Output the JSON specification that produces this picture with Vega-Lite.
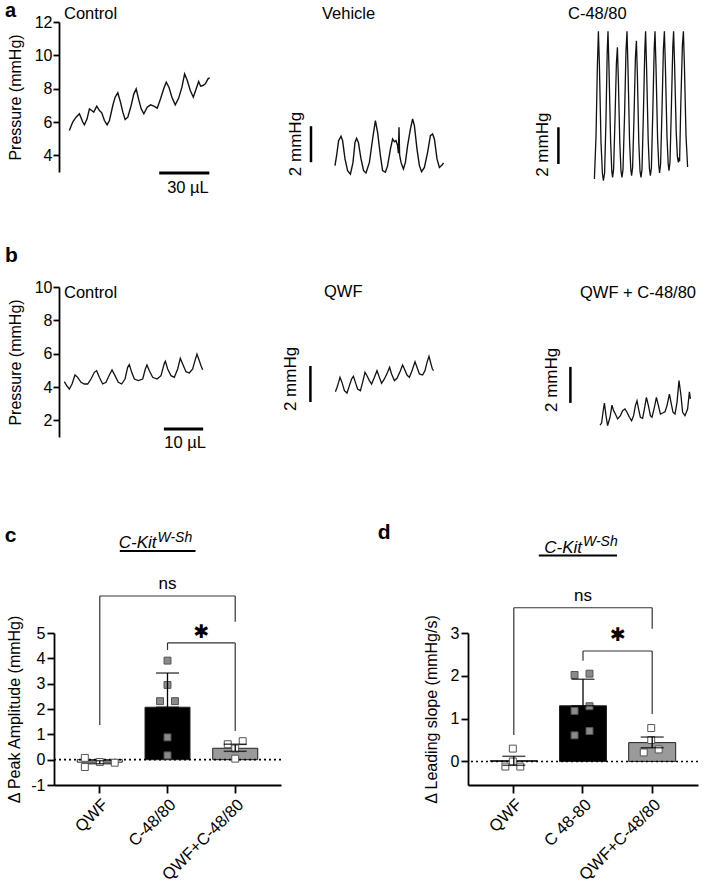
{
"$schema": "https://vega.github.io/schema/vega-lite/v6.json",
"padding": {"left": 4, "top": 0, "right": 2, "bottom": 2},
"background": "white",
"config": {
  "font": "Liberation Sans",
  "view": {"stroke": null},
  "axis": {"domainColor": "#000", "tickColor": "#000", "labelColor": "#000", "titleColor": "#000", "grid": false, "labelFont": "Liberation Sans", "titleFont": "Liberation Sans", "titleFontWeight": "normal", "domainWidth": 1.8, "tickWidth": 1.8, "labelFontSize": 16, "titleFontSize": 16, "labelOverlap": false, "labelFlush": false, "labelBound": false},
  "text": {"font": "Liberation Sans", "color": "#000"}
},
"datasets": {
  "aCtrl": [{"x":9.2,"y":5.49},{"x":11.2,"y":6.0},{"x":13.2,"y":6.29},{"x":15.2,"y":6.49},{"x":17.2,"y":6.0},{"x":18.2,"y":5.83},{"x":19.8,"y":6.19},{"x":21.2,"y":6.79},{"x":22.6,"y":6.69},{"x":23.8,"y":6.59},{"x":25.6,"y":6.95},{"x":27.2,"y":6.69},{"x":28.6,"y":6.55},{"x":30.2,"y":6.09},{"x":31.8,"y":5.83},{"x":33.2,"y":6.09},{"x":35.2,"y":6.99},{"x":36.6,"y":7.49},{"x":38.2,"y":7.75},{"x":39.8,"y":7.19},{"x":41.2,"y":6.59},{"x":42.6,"y":6.15},{"x":44.2,"y":6.29},{"x":46.2,"y":6.99},{"x":47.8,"y":7.69},{"x":49.2,"y":7.99},{"x":50.6,"y":7.39},{"x":52.2,"y":6.79},{"x":53.8,"y":6.49},{"x":55.8,"y":6.89},{"x":57.8,"y":7.03},{"x":59.8,"y":6.95},{"x":61.8,"y":6.83},{"x":63.8,"y":7.39},{"x":65.8,"y":8.03},{"x":67.2,"y":8.39},{"x":68.8,"y":8.09},{"x":70.6,"y":7.49},{"x":72.6,"y":7.03},{"x":74.6,"y":7.42},{"x":76.6,"y":8.09},{"x":78.2,"y":8.89},{"x":79.8,"y":8.49},{"x":81.6,"y":7.89},{"x":83.4,"y":7.49},{"x":85.0,"y":7.95},{"x":86.6,"y":8.43},{"x":87.8,"y":8.15},{"x":89.2,"y":8.19},{"x":90.6,"y":8.29},{"x":92.2,"y":8.59},{"x":93.2,"y":8.65}],
  "aVeh": [{"x":17,"y":0.91},{"x":17.8,"y":1.46},{"x":18.8,"y":2.3},{"x":20,"y":2.54},{"x":20.8,"y":2.3},{"x":22,"y":1.28},{"x":23.3,"y":0.63},{"x":24.7,"y":0.44},{"x":26,"y":1.09},{"x":27,"y":2.2},{"x":27.8,"y":2.43},{"x":28.7,"y":2.2},{"x":30,"y":1.28},{"x":31.3,"y":0.63},{"x":32.5,"y":0.5},{"x":34.2,"y":1.09},{"x":35.8,"y":2.39},{"x":37.2,"y":3.41},{"x":38.3,"y":2.76},{"x":39.7,"y":1.46},{"x":40.8,"y":0.63},{"x":42.2,"y":0.54},{"x":43.3,"y":0.91},{"x":44.7,"y":1.83},{"x":45.8,"y":2.39},{"x":46.7,"y":2.24},{"x":47.5,"y":2.3},{"x":48.3,"y":2.02},{"x":48.7,"y":1.6},{"x":49.0,"y":3.04},{"x":49.3,"y":1.5},{"x":50,"y":1.09},{"x":51.2,"y":0.72},{"x":52.2,"y":1.09},{"x":53.3,"y":2.02},{"x":54.7,"y":2.94},{"x":55.8,"y":3.5},{"x":56.7,"y":3.13},{"x":58,"y":1.83},{"x":59.2,"y":0.91},{"x":60.3,"y":0.57},{"x":61.7,"y":0.81},{"x":63.3,"y":1.65},{"x":64.7,"y":2.57},{"x":65.8,"y":2.67},{"x":66.7,"y":2.39},{"x":68,"y":1.28},{"x":69.2,"y":0.81},{"x":70.5,"y":0.94},{"x":71.3,"y":1.06}],
  "aC48": [{"x":26.7,"y":0.17},{"x":27.5,"y":2.5},{"x":28.2,"y":6.5},{"x":28.7,"y":8.37},{"x":29.2,"y":6.5},{"x":30.0,"y":2.2},{"x":30.7,"y":0.5},{"x":31.2,"y":0.07},{"x":31.8,"y":0.5},{"x":32.5,"y":3.5},{"x":33.1,"y":7.2},{"x":33.5,"y":8.37},{"x":34.0,"y":6.3},{"x":34.8,"y":2.3},{"x":35.4,"y":0.6},{"x":35.8,"y":0.26},{"x":36.3,"y":0.7},{"x":37.0,"y":3.5},{"x":37.7,"y":6.6},{"x":38.2,"y":7.48},{"x":38.7,"y":5.6},{"x":39.4,"y":2.2},{"x":40.0,"y":0.6},{"x":40.5,"y":0.26},{"x":41.0,"y":0.7},{"x":41.8,"y":3.8},{"x":42.5,"y":7.3},{"x":43.0,"y":8.37},{"x":43.5,"y":6.3},{"x":44.3,"y":2.2},{"x":44.9,"y":0.7},{"x":45.3,"y":0.35},{"x":45.8,"y":0.8},{"x":46.5,"y":3.6},{"x":47.2,"y":6.9},{"x":47.7,"y":7.85},{"x":48.2,"y":5.9},{"x":48.9,"y":2.2},{"x":49.5,"y":0.6},{"x":50.0,"y":0.26},{"x":50.5,"y":0.7},{"x":51.2,"y":3.8},{"x":51.9,"y":7.3},{"x":52.3,"y":8.37},{"x":52.8,"y":6.3},{"x":53.6,"y":2.3},{"x":54.2,"y":0.75},{"x":54.7,"y":0.35},{"x":55.2,"y":0.8},{"x":55.9,"y":3.9},{"x":56.6,"y":7.4},{"x":57.0,"y":8.37},{"x":57.5,"y":6.4},{"x":58.3,"y":2.4},{"x":58.9,"y":0.9},{"x":59.3,"y":0.5},{"x":59.8,"y":1.0},{"x":60.5,"y":4.0},{"x":61.2,"y":7.4},{"x":61.7,"y":8.37},{"x":62.2,"y":6.4},{"x":63.0,"y":2.5},{"x":63.6,"y":1.0},{"x":64.0,"y":0.63},{"x":64.5,"y":1.1},{"x":65.2,"y":4.2},{"x":65.9,"y":7.5},{"x":66.3,"y":8.37},{"x":66.8,"y":6.5},{"x":67.6,"y":2.8},{"x":68.2,"y":1.4},{"x":68.7,"y":1.09},{"x":69.0,"y":1.35},{"x":69.3,"y":1.15},{"x":69.9,"y":4.3},{"x":70.7,"y":7.6},{"x":71.2,"y":8.37},{"x":71.7,"y":6.5},{"x":72.5,"y":2.6},{"x":73.3,"y":0.83}],
  "bCtrl": [{"x":2.63,"y":4.32},{"x":3.23,"y":4.08},{"x":3.91,"y":3.88},{"x":4.59,"y":4.18},{"x":5.35,"y":4.72},{"x":6.03,"y":4.58},{"x":6.88,"y":4.28},{"x":7.73,"y":4.18},{"x":8.58,"y":4.18},{"x":9.43,"y":4.48},{"x":10.28,"y":4.88},{"x":10.86,"y":4.98},{"x":11.55,"y":4.58},{"x":12.4,"y":4.18},{"x":13.25,"y":4.28},{"x":14.1,"y":4.72},{"x":14.78,"y":5.02},{"x":15.54,"y":4.68},{"x":16.39,"y":4.28},{"x":17.24,"y":4.18},{"x":18.09,"y":4.48},{"x":18.77,"y":5.18},{"x":19.19,"y":5.34},{"x":19.8,"y":4.88},{"x":20.47,"y":4.48},{"x":21.49,"y":4.38},{"x":22.6,"y":4.48},{"x":23.27,"y":5.08},{"x":23.69,"y":5.32},{"x":24.29,"y":4.98},{"x":25.14,"y":4.58},{"x":26.24,"y":4.48},{"x":27.26,"y":4.68},{"x":28.11,"y":5.42},{"x":28.37,"y":5.54},{"x":28.96,"y":5.08},{"x":29.81,"y":4.68},{"x":30.66,"y":4.58},{"x":31.51,"y":5.08},{"x":32.18,"y":5.72},{"x":32.78,"y":5.38},{"x":33.63,"y":4.92},{"x":34.48,"y":4.84},{"x":35.33,"y":5.08},{"x":35.92,"y":5.58},{"x":36.43,"y":5.98},{"x":37.02,"y":5.58},{"x":37.45,"y":5.28},{"x":37.88,"y":5.04}],
  "bQWF": [{"x":17.2,"y":3.07},{"x":18,"y":3.31},{"x":18.8,"y":3.59},{"x":19.5,"y":3.87},{"x":20.5,"y":3.59},{"x":21.7,"y":3.13},{"x":23,"y":3.0},{"x":24.2,"y":3.41},{"x":25.3,"y":3.78},{"x":26.2,"y":3.93},{"x":27.2,"y":3.59},{"x":28.3,"y":3.22},{"x":29.7,"y":3.13},{"x":30.8,"y":3.59},{"x":32,"y":4.15},{"x":33,"y":3.96},{"x":34.2,"y":3.69},{"x":35.3,"y":3.5},{"x":36.7,"y":3.87},{"x":38,"y":4.24},{"x":39.2,"y":3.87},{"x":40.3,"y":3.54},{"x":41.7,"y":3.78},{"x":43.3,"y":4.15},{"x":44.3,"y":4.43},{"x":45.3,"y":4.06},{"x":46.7,"y":3.69},{"x":48,"y":3.82},{"x":49.7,"y":4.24},{"x":50.8,"y":4.56},{"x":51.7,"y":4.33},{"x":53,"y":4.0},{"x":54.2,"y":3.87},{"x":55.5,"y":4.24},{"x":57,"y":4.74},{"x":58,"y":4.43},{"x":59.2,"y":4.06},{"x":60.8,"y":4.0},{"x":62,"y":4.24},{"x":63,"y":4.7},{"x":64,"y":5.04},{"x":65,"y":4.61},{"x":65.7,"y":4.33},{"x":66.3,"y":4.24}],
  "bQC": [{"x":29.5,"y":1.22},{"x":30.3,"y":1.33},{"x":31,"y":1.93},{"x":31.7,"y":2.44},{"x":32.5,"y":1.74},{"x":33.3,"y":1.19},{"x":34.5,"y":1.65},{"x":35.5,"y":2.33},{"x":36.3,"y":2.02},{"x":37.2,"y":1.83},{"x":38.3,"y":1.56},{"x":39.7,"y":1.74},{"x":40.8,"y":2.02},{"x":42,"y":2.11},{"x":43,"y":1.93},{"x":44.2,"y":1.65},{"x":45.3,"y":1.46},{"x":46.3,"y":1.74},{"x":47.2,"y":2.3},{"x":48,"y":2.57},{"x":48.8,"y":2.11},{"x":49.7,"y":1.65},{"x":50.8,"y":1.59},{"x":51.7,"y":2.11},{"x":52.7,"y":2.76},{"x":53.7,"y":2.3},{"x":54.7,"y":1.74},{"x":55.5,"y":1.65},{"x":56.7,"y":2.2},{"x":57.7,"y":2.76},{"x":58.7,"y":2.3},{"x":59.7,"y":1.83},{"x":60.8,"y":1.89},{"x":62,"y":1.96},{"x":63,"y":2.3},{"x":64.2,"y":2.94},{"x":65,"y":2.48},{"x":66,"y":1.93},{"x":67,"y":1.83},{"x":68,"y":2.48},{"x":69,"y":3.69},{"x":70,"y":2.85},{"x":70.8,"y":1.93},{"x":72,"y":1.74},{"x":73.3,"y":2.11},{"x":74.2,"y":3.07},{"x":74.7,"y":2.67}],
  "cBars": [{"g":"QWF","mean":-0.1,"lo":-0.16,"hi":-0.04},{"g":"C-48/80","mean":2.07,"lo":2.07,"hi":3.42},{"g":"QWF+C-48/80","mean":0.45,"lo":0.33,"hi":0.61}],
  "cPts": [{"g":"QWF","v":0.07,"j":"LL"},{"g":"QWF","v":-0.29,"j":"LL"},{"g":"QWF","v":-0.09,"j":"C"},{"g":"QWF","v":-0.12,"j":"RR"},{"g":"C-48/80","v":3.91,"j":"C"},{"g":"C-48/80","v":2.95,"j":"C"},{"g":"C-48/80","v":2.31,"j":"L"},{"g":"C-48/80","v":2.31,"j":"R"},{"g":"C-48/80","v":0.88,"j":"C"},{"g":"C-48/80","v":0.17,"j":"C"},{"g":"QWF+C-48/80","v":0.61,"j":"L"},{"g":"QWF+C-48/80","v":0.73,"j":"R"},{"g":"QWF+C-48/80","v":0.44,"j":"C"},{"g":"QWF+C-48/80","v":0.04,"j":"C"}],
  "dBars": [{"g":"QWF","mean":0.02,"lo":-0.09,"hi":0.12},{"g":"C 48-80","mean":1.3,"lo":1.3,"hi":1.92},{"g":"QWF+C-48/80","mean":0.44,"lo":0.32,"hi":0.57}],
  "dPts": [{"g":"QWF","v":0.3,"j":"C"},{"g":"QWF","v":-0.12,"j":"L"},{"g":"QWF","v":-0.12,"j":"R"},{"g":"QWF","v":0.0,"j":"C"},{"g":"C 48-80","v":2.02,"j":"L"},{"g":"C 48-80","v":2.05,"j":"R"},{"g":"C 48-80","v":1.18,"j":"L"},{"g":"C 48-80","v":1.29,"j":"R"},{"g":"C 48-80","v":0.61,"j":"L"},{"g":"C 48-80","v":0.71,"j":"R"},{"g":"QWF+C-48/80","v":0.78,"j":"C"},{"g":"QWF+C-48/80","v":0.21,"j":"L"},{"g":"QWF+C-48/80","v":0.28,"j":"R"},{"g":"QWF+C-48/80","v":0.5,"j":"C"}]
},
"spacing": 69,
"vconcat": [
 {"columns": 3, "align": "each", "bounds": "flush", "spacing": {"row": 105, "column": 90},
  "concat": [
  {"width": 157, "height": 150, "data": {"name": "aCtrl"},
   "resolve": {"axis": {"x": "independent", "y": "independent"}},
   "layer": [
    {"mark": {"type": "line", "color": "#111", "strokeWidth": 1.4},
     "encoding": {"x": {"field": "x", "type": "quantitative", "scale": {"domain": [0, 94], "nice": false, "zero": false}, "axis": null},
                  "y": {"field": "y", "type": "quantitative", "scale": {"domain": [3, 12], "nice": false, "zero": false}, "axis": {"values": [4, 6, 8, 10, 12], "labelOverlap": false, "title": "Pressure (mmHg)", "offset": -5, "tickSize": 6, "labelPadding": 1, "titlePadding": 11}}}},
    {"data": {"values": [{}]}, "mark": {"type": "rule", "strokeWidth": 3, "color": "#000"},
     "encoding": {"x": {"datum": 63, "axis": null}, "x2": {"datum": 93}, "y": {"datum": 2.94, "axis": null}}},
    {"data": {"values": [{}]}, "mark": {"type": "text", "text": "30 µL", "align": "center", "baseline": "middle", "fontSize": 16.5},
     "encoding": {"x": {"datum": 80.2, "axis": null}, "y": {"datum": 2.07, "axis": null}}},
    {"data": {"values": [{}]}, "mark": {"type": "text", "text": "Control", "align": "left", "baseline": "alphabetic", "fontSize": 16.5},
     "encoding": {"x": {"datum": 6, "axis": null}, "y": {"datum": 12.18, "axis": null}}},
    {"data": {"values": [{}]}, "mark": {"type": "text", "text": "a", "align": "left", "baseline": "alphabetic", "fontSize": 20, "fontWeight": "bold"},
     "encoding": {"x": {"datum": -29.4, "axis": null}, "y": {"datum": 12.3, "axis": null}}}
   ]},
  {"width": 150, "height": 160, "data": {"name": "aVeh"},
   "layer": [
    {"mark": {"type": "line", "color": "#111", "strokeWidth": 1.4},
     "encoding": {"x": {"field": "x", "type": "quantitative", "scale": {"domain": [0, 75], "nice": false, "zero": false}, "axis": null},
                  "y": {"field": "y", "type": "quantitative", "scale": {"domain": [0, 8.89], "nice": false, "zero": false}, "axis": null}}},
    {"data": {"values": [{}]}, "mark": {"type": "rule", "strokeWidth": 2.5, "color": "#000"},
     "encoding": {"x": {"datum": 5, "axis": null}, "y": {"datum": 1.1, "axis": null}, "y2": {"datum": 3.1}}},
    {"data": {"values": [{}]}, "mark": {"type": "text", "text": "2 mmHg", "angle": 270, "align": "center", "baseline": "middle", "fontSize": 17},
     "encoding": {"x": {"datum": -2.5, "axis": null}, "y": {"datum": 2.11, "axis": null}}},
    {"data": {"values": [{}]}, "mark": {"type": "text", "text": "Vehicle", "align": "left", "baseline": "alphabetic", "fontSize": 16.5},
     "encoding": {"x": {"datum": 10.5, "axis": null}, "y": {"datum": 9.06, "axis": null}}}
   ]},
  {"width": 160, "height": 160, "data": {"name": "aC48"},
   "layer": [
    {"mark": {"type": "line", "color": "#111", "strokeWidth": 1.3},
     "encoding": {"x": {"field": "x", "type": "quantitative", "scale": {"domain": [0, 80], "nice": false, "zero": false}, "axis": null},
                  "y": {"field": "y", "type": "quantitative", "scale": {"domain": [0, 8.89], "nice": false, "zero": false}, "axis": null}}},
    {"data": {"values": [{}]}, "mark": {"type": "rule", "strokeWidth": 2.5, "color": "#000"},
     "encoding": {"x": {"datum": 8.7, "axis": null}, "y": {"datum": 1.0, "axis": null}, "y2": {"datum": 3.04}}},
    {"data": {"values": [{}]}, "mark": {"type": "text", "text": "2 mmHg", "angle": 270, "align": "center", "baseline": "middle", "fontSize": 17},
     "encoding": {"x": {"datum": 0.8, "axis": null}, "y": {"datum": 2.07, "axis": null}}},
    {"data": {"values": [{}]}, "mark": {"type": "text", "text": "C-48/80", "align": "left", "baseline": "alphabetic", "fontSize": 16.5},
     "encoding": {"x": {"datum": 13.5, "axis": null}, "y": {"datum": 9.06, "axis": null}}}
   ]},
  {"width": 157, "height": 150, "data": {"name": "bCtrl"},
   "resolve": {"axis": {"x": "independent", "y": "independent"}},
   "layer": [
    {"mark": {"type": "line", "color": "#111", "strokeWidth": 1.3},
     "encoding": {"x": {"field": "x", "type": "quantitative", "scale": {"domain": [0, 40], "nice": false, "zero": false}, "axis": null},
                  "y": {"field": "y", "type": "quantitative", "scale": {"domain": [1, 10], "nice": false, "zero": false}, "axis": {"values": [2, 4, 6, 8, 10], "labelOverlap": false, "title": "Pressure (mmHg)", "offset": -5, "tickSize": 6, "labelPadding": 1, "titlePadding": 11}}}},
    {"data": {"values": [{}]}, "mark": {"type": "rule", "strokeWidth": 3, "color": "#000"},
     "encoding": {"x": {"datum": 28, "axis": null}, "x2": {"datum": 38}, "y": {"datum": 1.48, "axis": null}}},
    {"data": {"values": [{}]}, "mark": {"type": "text", "text": "10 µL", "align": "center", "baseline": "middle", "fontSize": 16.5},
     "encoding": {"x": {"datum": 33.4, "axis": null}, "y": {"datum": 0.64, "axis": null}}},
    {"data": {"values": [{}]}, "mark": {"type": "text", "text": "Control", "align": "left", "baseline": "alphabetic", "fontSize": 16.5},
     "encoding": {"x": {"datum": 2.55, "axis": null}, "y": {"datum": 9.34, "axis": null}}},
    {"data": {"values": [{}]}, "mark": {"type": "text", "text": "b", "align": "left", "baseline": "alphabetic", "fontSize": 21, "fontWeight": "bold"},
     "encoding": {"x": {"datum": -12.5, "axis": null}, "y": {"datum": 11.5, "axis": null}}}
   ]},
  {"width": 150, "height": 160, "data": {"name": "bQWF"},
   "layer": [
    {"mark": {"type": "line", "color": "#111", "strokeWidth": 1.3},
     "encoding": {"x": {"field": "x", "type": "quantitative", "scale": {"domain": [0, 75], "nice": false, "zero": false}, "axis": null},
                  "y": {"field": "y", "type": "quantitative", "scale": {"domain": [0, 8.89], "nice": false, "zero": false}, "axis": null}}},
    {"data": {"values": [{}]}, "mark": {"type": "rule", "strokeWidth": 2.5, "color": "#000"},
     "encoding": {"x": {"datum": 4.7, "axis": null}, "y": {"datum": 2.5, "axis": null}, "y2": {"datum": 4.5}}},
    {"data": {"values": [{}]}, "mark": {"type": "text", "text": "2 mmHg", "angle": 270, "align": "center", "baseline": "middle", "fontSize": 17},
     "encoding": {"x": {"datum": -5, "axis": null}, "y": {"datum": 3.78, "axis": null}}},
    {"data": {"values": [{}]}, "mark": {"type": "text", "text": "QWF", "align": "left", "baseline": "alphabetic", "fontSize": 16.5},
     "encoding": {"x": {"datum": 11.5, "axis": null}, "y": {"datum": 8.33, "axis": null}}}
   ]},
  {"width": 160, "height": 160, "data": {"name": "bQC"},
   "layer": [
    {"mark": {"type": "line", "color": "#111", "strokeWidth": 1.3},
     "encoding": {"x": {"field": "x", "type": "quantitative", "scale": {"domain": [0, 80], "nice": false, "zero": false}, "axis": null},
                  "y": {"field": "y", "type": "quantitative", "scale": {"domain": [0, 8.89], "nice": false, "zero": false}, "axis": null}}},
    {"data": {"values": [{}]}, "mark": {"type": "rule", "strokeWidth": 2.5, "color": "#000"},
     "encoding": {"x": {"datum": 14.7, "axis": null}, "y": {"datum": 2.45, "axis": null}, "y2": {"datum": 4.45}}},
    {"data": {"values": [{}]}, "mark": {"type": "text", "text": "2 mmHg", "angle": 270, "align": "center", "baseline": "middle", "fontSize": 17},
     "encoding": {"x": {"datum": 5.5, "axis": null}, "y": {"datum": 3.73, "axis": null}}},
    {"data": {"values": [{}]}, "mark": {"type": "text", "text": "QWF + C-48/80", "align": "left", "baseline": "alphabetic", "fontSize": 16.5},
     "encoding": {"x": {"datum": 19.5, "axis": null}, "y": {"datum": 8.28, "axis": null}}}
   ]}
 ]},
 {"hconcat": [
  {"width": 227, "height": 152,
   "resolve": {"axis": {"x": "independent", "y": "independent"}},
   "layer": [
    {"data": {"name": "cBars"}, "mark": {"type": "bar", "stroke": "#222", "strokeWidth": 1, "width": 45},
     "encoding": {
      "x": {"field": "g", "type": "nominal", "sort": null, "scale": {"type": "band", "domain": ["QWF", "C-48/80", "QWF+C-48/80"], "paddingInner": 0.338, "paddingOuter": 0.345}, "axis": {"title": null, "labelAngle": -45, "labelFontSize": 16.5, "tickSize": 8, "labelPadding": 3}},
      "y": {"field": "mean", "type": "quantitative", "scale": {"domain": [-1, 5], "nice": false, "zero": false}, "axis": {"title": "Δ Peak Amplitude (mmHg)", "values": [-1, 0, 1, 2, 3, 4, 5], "labelOverlap": false, "labelExpr": "replace(datum.label, '−', '-')", "tickSize": 7, "labelPadding": 2, "titlePadding": 8, "titleFontSize": 16}},
      "color": {"field": "g", "type": "nominal", "scale": {"domain": ["QWF", "C-48/80", "C 48-80", "QWF+C-48/80"], "range": ["#ffffff", "#000000", "#000000", "#9a9a9a"]}, "legend": null}}},
    {"data": {"values": [{}]}, "mark": {"type": "rule", "strokeDash": [2, 3], "strokeWidth": 1.6, "color": "#000"},
     "encoding": {"y": {"datum": 0, "axis": null}}},
    {"data": {"name": "cPts"}, "mark": {"type": "point", "shape": "square", "filled": true, "size": 48, "stroke": "#555", "strokeWidth": 1, "opacity": 1},
     "encoding": {"x": {"field": "g", "type": "nominal", "axis": null},
      "xOffset": {"field": "j", "type": "nominal", "scale": {"domain": ["LL", "L", "C", "R", "RR"], "paddingInner": 0, "paddingOuter": 1.25}},
      "y": {"field": "v", "type": "quantitative", "axis": null},
      "fill": {"field": "g", "type": "nominal", "scale": {"domain": ["QWF", "C-48/80", "C 48-80", "QWF+C-48/80"], "range": ["#ffffff", "#8a8a8a", "#8a8a8a", "#ffffff"]}, "legend": null}}},
    {"data": {"name": "cBars"}, "mark": {"type": "rule", "color": "#000", "strokeWidth": 1.3},
     "encoding": {"x": {"field": "g", "type": "nominal", "axis": null}, "y": {"field": "lo", "type": "quantitative", "axis": null}, "y2": {"field": "hi"}}},
    {"data": {"name": "cBars"}, "mark": {"type": "tick", "color": "#000", "size": 23, "thickness": 1.5},
     "encoding": {"x": {"field": "g", "type": "nominal", "axis": null}, "y": {"field": "hi", "type": "quantitative", "axis": null}}},
    {"data": {"name": "cBars"}, "mark": {"type": "tick", "color": "#000", "size": 23, "thickness": 1.5},
     "encoding": {"x": {"field": "g", "type": "nominal", "axis": null}, "y": {"field": "lo", "type": "quantitative", "axis": null}}},
    {"data": {"values": [{}]}, "mark": {"type": "rule", "color": "#333", "strokeWidth": 1.2},
     "encoding": {"x": {"datum": "QWF", "type": "nominal", "axis": null}, "x2": {"datum": "QWF+C-48/80"}, "y": {"datum": 6.46, "axis": null}}},
    {"data": {"values": [{}]}, "mark": {"type": "rule", "color": "#333", "strokeWidth": 1.2},
     "encoding": {"x": {"datum": "QWF", "type": "nominal", "axis": null}, "y": {"datum": 1.37, "axis": null}, "y2": {"datum": 6.46}}},
    {"data": {"values": [{}]}, "mark": {"type": "rule", "color": "#333", "strokeWidth": 1.2},
     "encoding": {"x": {"datum": "QWF+C-48/80", "type": "nominal", "axis": null}, "y": {"datum": 5.44, "axis": null}, "y2": {"datum": 6.46}}},
    {"data": {"values": [{}]}, "mark": {"type": "rule", "color": "#333", "strokeWidth": 1.2},
     "encoding": {"x": {"datum": "C-48/80", "type": "nominal", "axis": null}, "x2": {"datum": "QWF+C-48/80"}, "y": {"datum": 4.61, "axis": null}}},
    {"data": {"values": [{}]}, "mark": {"type": "rule", "color": "#333", "strokeWidth": 1.2},
     "encoding": {"x": {"datum": "C-48/80", "type": "nominal", "axis": null}, "y": {"datum": 4.33, "axis": null}, "y2": {"datum": 4.61}}},
    {"data": {"values": [{}]}, "mark": {"type": "rule", "color": "#333", "strokeWidth": 1.2},
     "encoding": {"x": {"datum": "QWF+C-48/80", "type": "nominal", "axis": null}, "y": {"datum": 1.13, "axis": null}, "y2": {"datum": 4.61}}},
    {"data": {"values": [{}]}, "mark": {"type": "text", "text": "ns", "align": "center", "baseline": "middle", "fontSize": 17},
     "encoding": {"x": {"datum": "C-48/80", "type": "nominal", "axis": null}, "y": {"datum": 6.94, "axis": null}}},
    {"data": {"values": [{}]}, "mark": {"type": "text", "text": "✱", "align": "center", "baseline": "middle", "fontSize": 19, "font": "DejaVu Sans", "dx": 34},
     "encoding": {"x": {"datum": "C-48/80", "type": "nominal", "axis": null}, "y": {"datum": 5.04, "axis": null}}},
    {"data": {"values": [{}]}, "mark": {"type": "text", "text": "C-Kit", "align": "right", "baseline": "alphabetic", "fontSize": 17, "fontStyle": "italic", "dx": -11},
     "encoding": {"x": {"datum": "C-48/80", "type": "nominal", "axis": null}, "y": {"datum": 8.36, "axis": null}}},
    {"data": {"values": [{}]}, "mark": {"type": "text", "text": "W-Sh", "align": "left", "baseline": "alphabetic", "fontSize": 14, "fontStyle": "italic", "dx": -10},
     "encoding": {"x": {"datum": "C-48/80", "type": "nominal", "axis": null}, "y": {"datum": 8.58, "axis": null}}},
    {"data": {"values": [{}]}, "mark": {"type": "rule", "color": "#000", "strokeWidth": 2, "xOffset": 20, "x2Offset": 28},
     "encoding": {"x": {"datum": "QWF", "type": "nominal", "axis": null}, "x2": {"datum": "C-48/80"}, "y": {"datum": 8.24, "axis": null}}},
    {"data": {"values": [{}]}, "mark": {"type": "text", "text": "c", "align": "left", "baseline": "alphabetic", "fontSize": 21, "fontWeight": "bold", "dx": -95},
     "encoding": {"x": {"datum": "QWF", "type": "nominal", "axis": null}, "y": {"datum": 8.59, "axis": null}}}
   ]},
  {"width": 230, "height": 152,
   "resolve": {"axis": {"x": "independent", "y": "independent"}},
   "layer": [
    {"data": {"name": "dBars"}, "mark": {"type": "bar", "stroke": "#222", "strokeWidth": 1, "width": 47},
     "encoding": {
      "x": {"field": "g", "type": "nominal", "sort": null, "scale": {"type": "band", "domain": ["QWF", "C 48-80", "QWF+C-48/80"], "paddingInner": 0.324, "paddingOuter": 0.324}, "axis": {"title": null, "labelAngle": -45, "labelFontSize": 16.5, "tickSize": 8, "labelPadding": 3}},
      "y": {"field": "mean", "type": "quantitative", "scale": {"domain": [-0.55, 3], "nice": false, "zero": false}, "axis": {"title": "Δ Leading slope (mmHg/s)", "values": [0, 1, 2, 3], "labelOverlap": false, "tickSize": 7, "labelPadding": 2, "titlePadding": 11, "titleFontSize": 16}},
      "color": {"field": "g", "type": "nominal", "scale": {"domain": ["QWF", "C-48/80", "C 48-80", "QWF+C-48/80"], "range": ["#ffffff", "#000000", "#000000", "#9a9a9a"]}, "legend": null}}},
    {"data": {"values": [{}]}, "mark": {"type": "rule", "strokeDash": [2, 3], "strokeWidth": 1.6, "color": "#000"},
     "encoding": {"y": {"datum": 0, "axis": null}}},
    {"data": {"name": "dPts"}, "mark": {"type": "point", "shape": "square", "filled": true, "size": 48, "stroke": "#555", "strokeWidth": 1, "opacity": 1},
     "encoding": {"x": {"field": "g", "type": "nominal", "axis": null},
      "xOffset": {"field": "j", "type": "nominal", "scale": {"domain": ["LL", "L", "C", "R", "RR"], "paddingInner": 0, "paddingOuter": 1.115}},
      "y": {"field": "v", "type": "quantitative", "axis": null},
      "fill": {"field": "g", "type": "nominal", "scale": {"domain": ["QWF", "C-48/80", "C 48-80", "QWF+C-48/80"], "range": ["#ffffff", "#8a8a8a", "#8a8a8a", "#ffffff"]}, "legend": null}}},
    {"data": {"name": "dBars"}, "mark": {"type": "rule", "color": "#000", "strokeWidth": 1.3},
     "encoding": {"x": {"field": "g", "type": "nominal", "axis": null}, "y": {"field": "lo", "type": "quantitative", "axis": null}, "y2": {"field": "hi"}}},
    {"data": {"name": "dBars"}, "mark": {"type": "tick", "color": "#000", "size": 23, "thickness": 1.5},
     "encoding": {"x": {"field": "g", "type": "nominal", "axis": null}, "y": {"field": "hi", "type": "quantitative", "axis": null}}},
    {"data": {"name": "dBars"}, "mark": {"type": "tick", "color": "#000", "size": 23, "thickness": 1.5},
     "encoding": {"x": {"field": "g", "type": "nominal", "axis": null}, "y": {"field": "lo", "type": "quantitative", "axis": null}}},
    {"data": {"values": [{}]}, "mark": {"type": "rule", "color": "#333", "strokeWidth": 1.2},
     "encoding": {"x": {"datum": "QWF", "type": "nominal", "axis": null}, "x2": {"datum": "QWF+C-48/80"}, "y": {"datum": 3.59, "axis": null}}},
    {"data": {"values": [{}]}, "mark": {"type": "rule", "color": "#333", "strokeWidth": 1.2},
     "encoding": {"x": {"datum": "QWF", "type": "nominal", "axis": null}, "y": {"datum": 0.62, "axis": null}, "y2": {"datum": 3.59}}},
    {"data": {"values": [{}]}, "mark": {"type": "rule", "color": "#333", "strokeWidth": 1.2},
     "encoding": {"x": {"datum": "QWF+C-48/80", "type": "nominal", "axis": null}, "y": {"datum": 3.1, "axis": null}, "y2": {"datum": 3.59}}},
    {"data": {"values": [{}]}, "mark": {"type": "rule", "color": "#333", "strokeWidth": 1.2},
     "encoding": {"x": {"datum": "C 48-80", "type": "nominal", "axis": null}, "x2": {"datum": "QWF+C-48/80"}, "y": {"datum": 2.58, "axis": null}}},
    {"data": {"values": [{}]}, "mark": {"type": "rule", "color": "#333", "strokeWidth": 1.2},
     "encoding": {"x": {"datum": "C 48-80", "type": "nominal", "axis": null}, "y": {"datum": 2.35, "axis": null}, "y2": {"datum": 2.58}}},
    {"data": {"values": [{}]}, "mark": {"type": "rule", "color": "#333", "strokeWidth": 1.2},
     "encoding": {"x": {"datum": "QWF+C-48/80", "type": "nominal", "axis": null}, "y": {"datum": 1.11, "axis": null}, "y2": {"datum": 2.58}}},
    {"data": {"values": [{}]}, "mark": {"type": "text", "text": "ns", "align": "center", "baseline": "middle", "fontSize": 17},
     "encoding": {"x": {"datum": "C 48-80", "type": "nominal", "axis": null}, "y": {"datum": 3.87, "axis": null}}},
    {"data": {"values": [{}]}, "mark": {"type": "text", "text": "✱", "align": "center", "baseline": "middle", "fontSize": 19, "font": "DejaVu Sans", "dx": 35},
     "encoding": {"x": {"datum": "C 48-80", "type": "nominal", "axis": null}, "y": {"datum": 2.96, "axis": null}}},
    {"data": {"values": [{}]}, "mark": {"type": "text", "text": "C-Kit", "align": "right", "baseline": "alphabetic", "fontSize": 17, "fontStyle": "italic", "dx": -1},
     "encoding": {"x": {"datum": "C 48-80", "type": "nominal", "axis": null}, "y": {"datum": 4.87, "axis": null}}},
    {"data": {"values": [{}]}, "mark": {"type": "text", "text": "W-Sh", "align": "left", "baseline": "alphabetic", "fontSize": 14, "fontStyle": "italic", "dx": 0},
     "encoding": {"x": {"datum": "C 48-80", "type": "nominal", "axis": null}, "y": {"datum": 5.04, "axis": null}}},
    {"data": {"values": [{}]}, "mark": {"type": "rule", "color": "#000", "strokeWidth": 2, "xOffset": 25, "x2Offset": 34},
     "encoding": {"x": {"datum": "QWF", "type": "nominal", "axis": null}, "x2": {"datum": "C 48-80"}, "y": {"datum": 4.81, "axis": null}}},
    {"data": {"values": [{}]}, "mark": {"type": "text", "text": "d", "align": "left", "baseline": "alphabetic", "fontSize": 21, "fontWeight": "bold", "dx": -136},
     "encoding": {"x": {"datum": "QWF", "type": "nominal", "axis": null}, "y": {"datum": 5.2, "axis": null}}}
   ]}
 ], "spacing": 187, "bounds": "flush"}
]
}
